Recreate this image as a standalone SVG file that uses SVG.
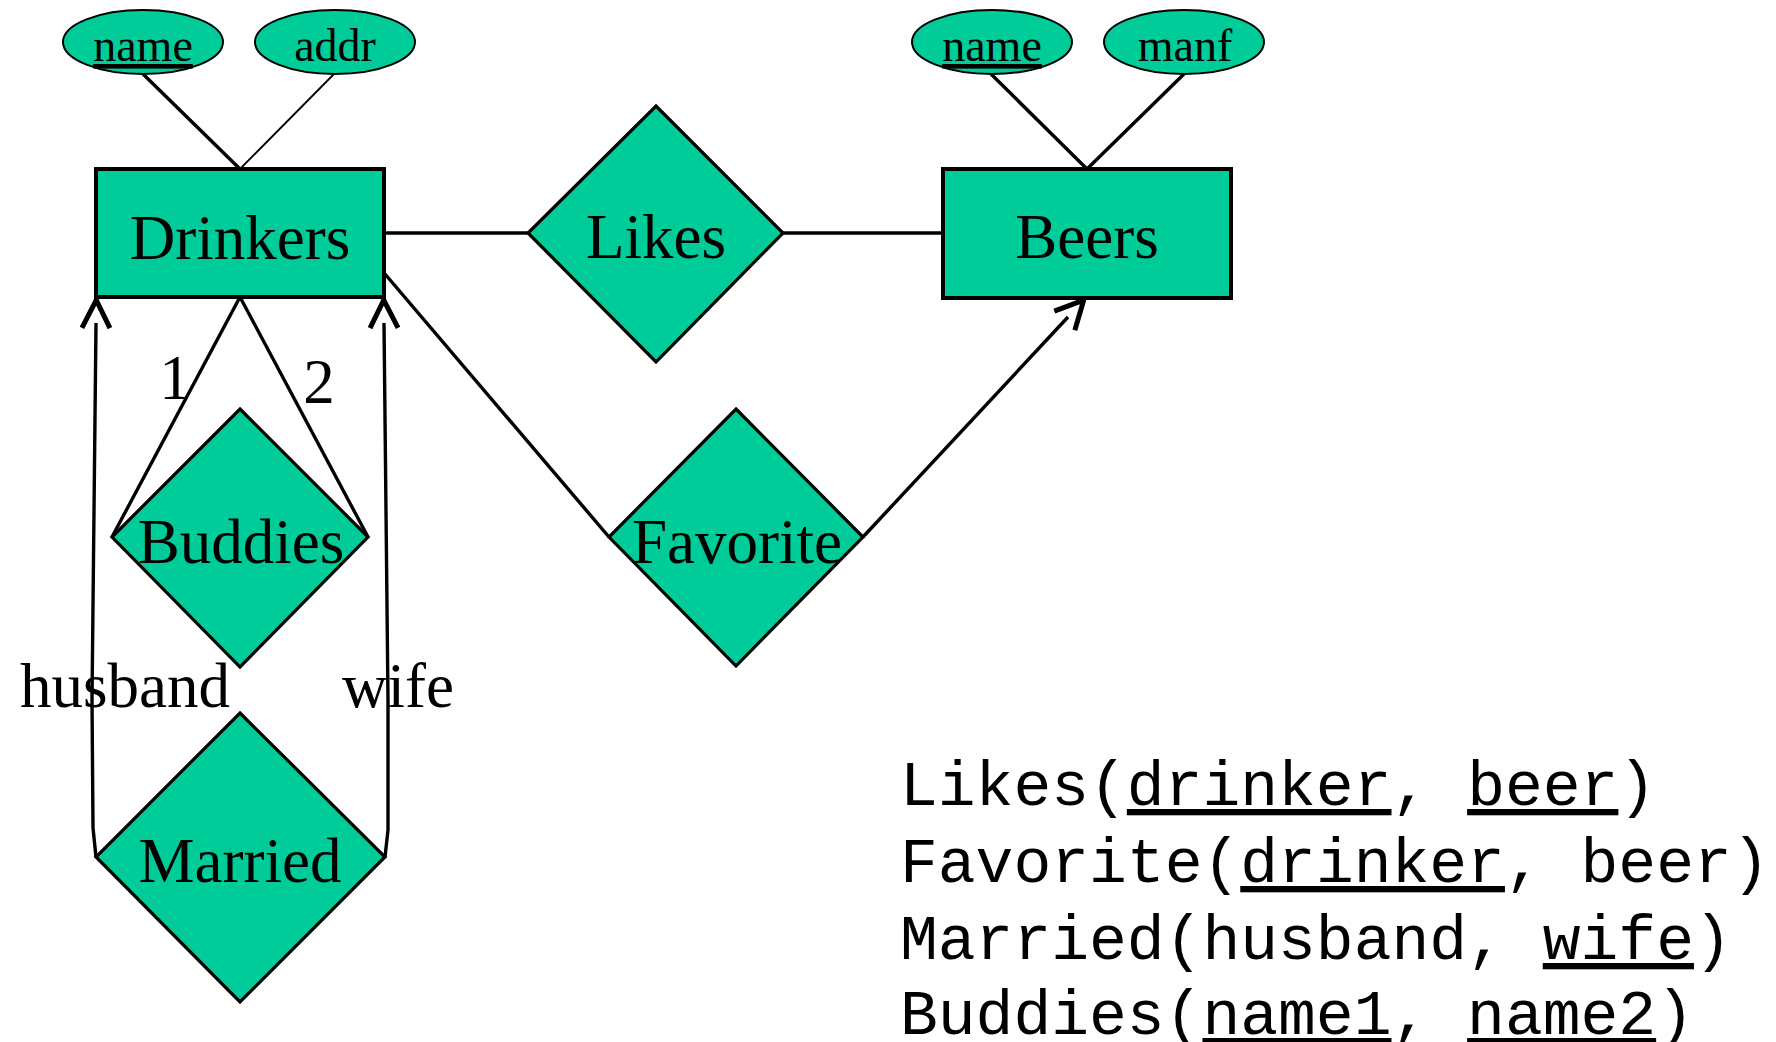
<svg xmlns="http://www.w3.org/2000/svg" width="1776" height="1042" viewBox="0 0 1776 1042">
  <style>
    .ent { fill: #00CC99; stroke: #000; stroke-width: 4; }
    .rel { fill: #00CC99; stroke: #000; stroke-width: 3.2; stroke-linejoin: miter; }
    .att { fill: #00CC99; stroke: #000; stroke-width: 2; }
    .lbl { font-family: "Liberation Serif", "Times New Roman", serif; font-size: 63px; fill: #000; text-anchor: middle; }
    .alb { font-family: "Liberation Serif", "Times New Roman", serif; font-size: 46px; fill: #000; text-anchor: middle; }
    .rl  { font-family: "Liberation Serif", "Times New Roman", serif; font-size: 63px; fill: #000; }
    .schema { font-family: "Liberation Mono", "Courier New", monospace; font-size: 63px; fill: #000; }
    .u { text-decoration: underline; text-decoration-thickness: 2px; }
    .ln { fill: none; stroke: #000; stroke-width: 3.4; }
    .thin { fill: none; stroke: #000; stroke-width: 1.8; }
  </style>
  <defs>
    <!-- open chevron sitting a little ahead of the line end -->
    <marker id="open" markerUnits="userSpaceOnUse" markerWidth="40" markerHeight="40" viewBox="-10 -20 40 40" refX="0" refY="0" orient="auto" overflow="visible">
      <path d="M-5,-14 L23,0 L-5,14" fill="none" stroke="#000" stroke-width="5" stroke-linecap="butt" stroke-linejoin="miter"/>
    </marker>
  </defs>

  <rect width="1776" height="1042" fill="#fff"/>

  <!-- connectors -->
  <g id="connectors">
    <line class="ln" x1="143" y1="74" x2="240" y2="169"/>
    <line class="thin" x1="334" y1="74" x2="240" y2="169"/>
    <line class="ln" x1="991" y1="74" x2="1087" y2="169"/>
    <line class="ln" x1="1184" y1="74" x2="1087" y2="169"/>
    <line class="ln" x1="384" y1="233" x2="528" y2="233"/>
    <line class="ln" x1="783" y1="233" x2="943" y2="233"/>
    <line class="ln" x1="385" y1="274" x2="609" y2="537"/>
    <line class="ln" x1="863" y1="537" x2="1068" y2="317" marker-end="url(#open)"/>
    <line class="ln" x1="240" y1="297" x2="112" y2="537"/>
    <line class="ln" x1="240" y1="297" x2="368" y2="537"/>
    <polyline class="ln" points="96,857 93,828 92,700 96,323" marker-end="url(#open)"/>
    <polyline class="ln" points="385,857 388,830 388,700 384,323" marker-end="url(#open)"/>
    <text class="rl" x="175" y="399" text-anchor="middle">1</text>
    <text class="rl" x="319" y="403" text-anchor="middle">2</text>
    <text class="rl" x="20" y="707">husband</text>
    <text class="rl" x="342" y="707">wife</text>
  </g>

  <!-- attributes -->
  <g id="attr-drinkers-name">
    <ellipse class="att" cx="143" cy="42" rx="80" ry="32"/>
    <text class="alb u" x="143" y="61">name</text>
  </g>
  <g id="attr-drinkers-addr">
    <ellipse class="att" cx="335" cy="42" rx="80" ry="32"/>
    <text class="alb" x="335" y="61">addr</text>
  </g>
  <g id="attr-beers-name">
    <ellipse class="att" cx="992" cy="42" rx="80" ry="32"/>
    <text class="alb u" x="992" y="61">name</text>
  </g>
  <g id="attr-beers-manf">
    <ellipse class="att" cx="1184" cy="42" rx="80" ry="32"/>
    <text class="alb" x="1185" y="61">manf</text>
  </g>

  <!-- entities -->
  <g id="drinkers">
    <rect class="ent" x="96" y="169" width="288" height="128"/>
    <text class="lbl" x="240" y="259">Drinkers</text>
  </g>
  <g id="beers">
    <rect class="ent" x="943" y="169" width="288" height="129"/>
    <text class="lbl" x="1087" y="258">Beers</text>
  </g>

  <!-- relationships -->
  <g id="likes">
    <polygon class="rel" points="656,106 783,233 656,362 528,233"/>
    <text class="lbl" x="656" y="258">Likes</text>
  </g>
  <g id="favorite">
    <polygon class="rel" points="736,409 863,537 736,666 609,537"/>
    <text class="lbl" x="737" y="563">Favorite</text>
  </g>
  <g id="buddies">
    <polygon class="rel" points="240,409 368,537 240,667 112,537"/>
    <text class="lbl" x="241" y="563">Buddies</text>
  </g>
  <g id="married">
    <polygon class="rel" points="240,713 385,857 240,1002 96,857"/>
    <text class="lbl" x="240" y="882">Married</text>
  </g>

  <!-- relation schemas -->
  <g id="schemas" class="schema">
    <text x="900" y="805">Likes(<tspan class="u">drinker</tspan>, <tspan class="u">beer</tspan>)</text>
    <text x="900" y="882">Favorite(<tspan class="u">drinker</tspan>, beer)</text>
    <text x="900" y="959">Married(husband, <tspan class="u">wife</tspan>)</text>
    <text x="900" y="1034">Buddies(<tspan class="u">name1</tspan>, <tspan class="u">name2</tspan>)</text>
  </g>
</svg>
